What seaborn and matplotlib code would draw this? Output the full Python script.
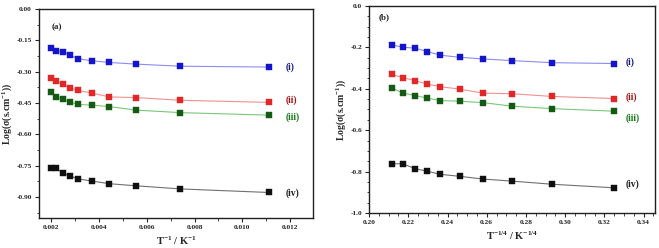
import numpy as np
import pandas as pd
import matplotlib
matplotlib.use('Agg')
import matplotlib.pyplot as plt
import seaborn as sns
from matplotlib.ticker import AutoMinorLocator, MultipleLocator

# data
inv_T = [0.00200, 0.00222, 0.00250, 0.00278, 0.00313, 0.00370, 0.00444, 0.00556, 0.00741, 0.01111]
inv_T4 = [0.2115, 0.2171, 0.2236, 0.2296, 0.2364, 0.2465, 0.2582, 0.2730, 0.2934, 0.3247]

log_i = [-0.188, -0.199, -0.204, -0.220, -0.238, -0.248, -0.256, -0.264, -0.274, -0.278]
log_ii = [-0.330, -0.346, -0.361, -0.377, -0.390, -0.402, -0.421, -0.424, -0.437, -0.447]
log_iii = [-0.395, -0.420, -0.433, -0.445, -0.457, -0.460, -0.467, -0.484, -0.496, -0.508]
log_iv = [-0.762, -0.762, -0.786, -0.798, -0.813, -0.823, -0.836, -0.846, -0.861, -0.878]

series_names = ['(i)', '(ii)', '(iii)', '(iv)']
series_vals = [log_i, log_ii, log_iii, log_iv]
marker_cols = ['#1414c8', '#e02828', '#145a14', '#101010']
line_cols = ['#8c8cf0', '#f09090', '#78c878', '#707070']
text_cols = ['#1a1a80', '#a01818', '#1a7a1a', '#202020']

sns.set_style('ticks')
plt.rcParams['font.family'] = ['Liberation Serif', 'DejaVu Serif']
plt.rcParams['font.weight'] = 'bold'
plt.rcParams['mathtext.fontset'] = 'custom'
plt.rcParams['mathtext.rm'] = 'Liberation Serif:bold'
plt.rcParams['mathtext.it'] = 'Liberation Serif:italic:bold'
plt.rcParams['mathtext.default'] = 'regular'

fig = plt.figure(figsize=(6.59, 2.48), dpi=100)
ax1 = fig.add_axes([0.059, 0.121, 0.416, 0.843])
ax2 = fig.add_axes([0.560, 0.141, 0.434, 0.835])

def draw(ax, xs, lab_x, lab_y):
    for name, ys, mc, lc, tc, ly in zip(series_names, series_vals, marker_cols, line_cols, text_cols, lab_y):
        df = pd.DataFrame({'x': xs, 'y': ys})
        sns.lineplot(data=df, x='x', y='y', ax=ax, color=lc, lw=0.8)
        sns.scatterplot(data=df, x='x', y='y', ax=ax, color=mc, marker='s', s=13,
                        edgecolor=mc, linewidth=0.3, zorder=3)
        ax.text(lab_x, ly, name, color=tc, fontsize=7, fontweight='bold',
                ha='left', va='center')
    for sp in ax.spines.values():
        sp.set_linewidth(1.0)
        sp.set_color('#202020')
    ax.tick_params(axis='both', which='major', direction='out', length=3, width=0.8,
                   labelsize=5.3, pad=2)
    ax.tick_params(axis='both', which='minor', direction='out', length=1.8, width=0.6)

draw(ax1, inv_T, 0.0118, [-0.28, -0.437, -0.52, -0.882])
ax1.set_xlim(0.0015, 0.01295)
ax1.set_ylim(-1.0, 0.0)
ax1.xaxis.set_major_locator(MultipleLocator(0.002))
ax1.yaxis.set_major_locator(MultipleLocator(0.15))
ax1.xaxis.set_minor_locator(AutoMinorLocator(2))
ax1.yaxis.set_minor_locator(AutoMinorLocator(2))
ax1.set_xticks([0.002, 0.004, 0.006, 0.008, 0.010, 0.012])
ax1.set_xticklabels(['0.002', '0.004', '0.006', '0.008', '0.010', '0.012'])
ax1.set_yticks([0.0, -0.15, -0.30, -0.45, -0.60, -0.75, -0.90])
ax1.set_yticklabels(['0.00', '-0.15', '-0.30', '-0.45', '-0.60', '-0.75', '-0.90'])
ax1.set_xlabel(r'T$^{-1}$ / K$^{-1}$', fontsize=7.5, fontweight='bold', labelpad=3)
ax1.set_ylabel(r'Log($\sigma$(s.cm$^{-1}$))', fontsize=7, fontweight='bold', labelpad=2)
ax1.text(0.045, 0.905, '(a)', transform=ax1.transAxes, fontsize=6.5, fontweight='bold')

draw(ax2, inv_T4, 0.331, [-0.274, -0.442, -0.544, -0.863])
ax2.set_xlim(0.205, 0.3458)
ax2.set_ylim(-1.0, 0.0)
ax2.set_xticks([0.20, 0.22, 0.24, 0.26, 0.28, 0.30, 0.32, 0.34])
ax2.set_xticklabels(['0.20', '0.22', '0.24', '0.26', '0.28', '0.30', '0.32', '0.34'])
ax2.set_yticks([0.0, -0.2, -0.4, -0.6, -0.8, -1.0])
ax2.set_yticklabels(['0.0', '-0.2', '-0.4', '-0.6', '-0.8', '-1.0'])
ax2.xaxis.set_minor_locator(AutoMinorLocator(4))
ax2.yaxis.set_minor_locator(AutoMinorLocator(4))
ax2.set_xlabel(r'T$^{-1/4}$ / K$^{-1/4}$', fontsize=7.5, fontweight='bold', labelpad=3)
ax2.set_ylabel(r'Log($\sigma$(s.cm$^{-1}$))', fontsize=7, fontweight='bold', labelpad=2)
ax2.text(0.035, 0.935, '(b)', transform=ax2.transAxes, fontsize=6.5, fontweight='bold')

fig.savefig('out.png', dpi=100)
